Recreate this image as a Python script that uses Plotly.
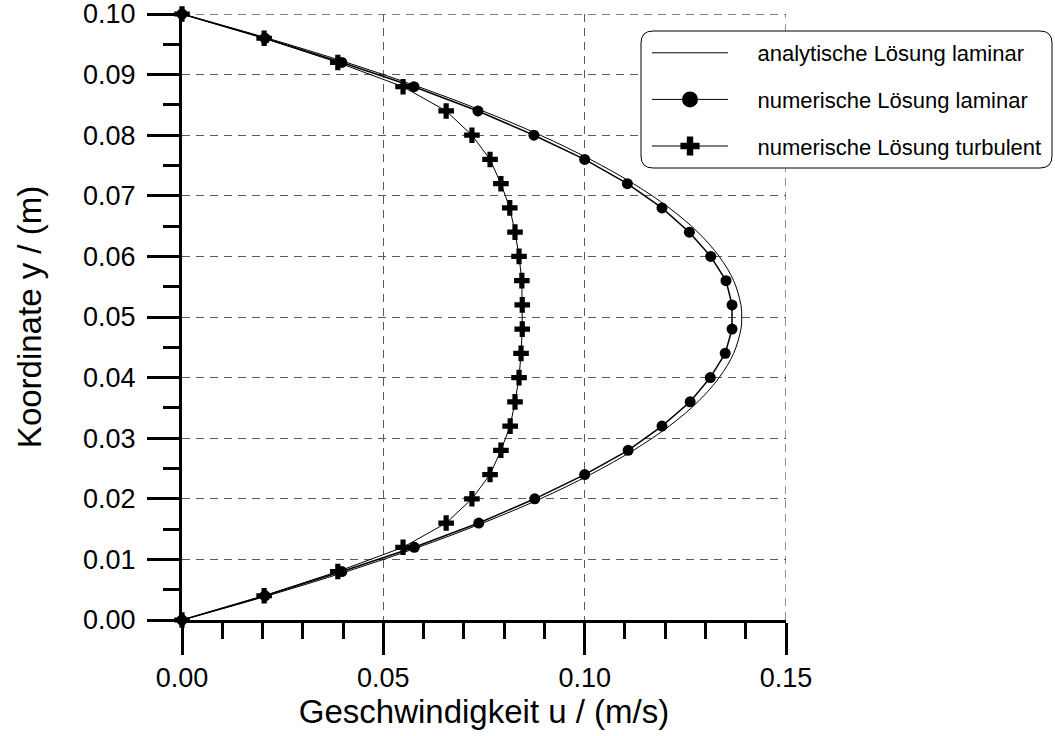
import plotly.graph_objects as go

# ---- data ----
y_pts = [0.000, 0.004, 0.008, 0.012, 0.016, 0.020, 0.024, 0.028, 0.032, 0.036,
         0.040, 0.044, 0.048, 0.052, 0.056, 0.060, 0.064, 0.068, 0.072, 0.076,
         0.080, 0.084, 0.088, 0.092, 0.096, 0.100]

u_lam_num = [0.0, 0.0206, 0.0397, 0.0577, 0.0737, 0.0876, 0.1000, 0.1108, 0.1192, 0.1262,
             0.1312, 0.1349, 0.1366, 0.1366, 0.1351, 0.1313, 0.1260, 0.1192, 0.1106, 0.1000,
             0.0874, 0.0735, 0.0576, 0.0397, 0.0206, 0.0]

u_turb_num = [0.0, 0.0204, 0.0387, 0.0549, 0.0656, 0.0720, 0.0765, 0.0792, 0.0815, 0.0827,
              0.0837, 0.0842, 0.0845, 0.0845, 0.0844, 0.0837, 0.0827, 0.0814, 0.0792, 0.0765,
              0.0720, 0.0656, 0.0549, 0.0387, 0.0204, 0.0]

y_ana = [0.000, 0.004, 0.008, 0.012, 0.016, 0.020, 0.024, 0.028, 0.032, 0.036,
         0.040, 0.044, 0.048, 0.050, 0.052, 0.056, 0.060, 0.064, 0.068, 0.072,
         0.076, 0.080, 0.084, 0.088, 0.092, 0.096, 0.100]
u_ana = [0.0, 0.0213, 0.0409, 0.0587, 0.0747, 0.0890, 0.1014, 0.1121, 0.1210, 0.1281,
         0.1334, 0.1370, 0.1388, 0.1390, 0.1388, 0.1370, 0.1334, 0.1281, 0.1210, 0.1121,
         0.1014, 0.0890, 0.0747, 0.0587, 0.0409, 0.0213, 0.0]

names = ["analytische Lösung laminar", "numerische Lösung laminar", "numerische Lösung turbulent"]
x_range = [0.0, 0.15]
y_range = [0.0, 0.10]
x_ticks = [0.00, 0.05, 0.10, 0.15]
x_ticklabels = ["0.00", "0.05", "0.10", "0.15"]
y_ticks = [0.00, 0.01, 0.02, 0.03, 0.04, 0.05, 0.06, 0.07, 0.08, 0.09, 0.10]
y_ticklabels = ["0.00", "0.01", "0.02", "0.03", "0.04", "0.05", "0.06", "0.07", "0.08", "0.09", "0.10"]
x_title = "Geschwindigkeit u / (m/s)"
y_title = "Koordinate y / (m)"

FONT = "Liberation Sans, Arial, sans-serif"
W, H = 1055, 736
ML, MR, MT, MB = 182, 269, 14, 116
PW, PH = W - ML - MR, H - MT - MB

fig = go.Figure()

# plotted traces (no legend)
fig.add_trace(go.Scatter(x=u_ana, y=y_ana, mode="lines", line=dict(color="black", width=1, shape="spline"),
                         showlegend=False, cliponaxis=False, hoverinfo="skip"))
fig.add_trace(go.Scatter(x=u_lam_num, y=y_pts, mode="lines+markers",
                         line=dict(color="black", width=1.5),
                         marker=dict(symbol="circle", size=11, color="black"),
                         showlegend=False, cliponaxis=False))
fig.add_trace(go.Scatter(x=u_turb_num, y=y_pts, mode="lines+markers",
                         line=dict(color="black", width=1),
                         marker=dict(symbol="cross", size=13, color="black"),
                         showlegend=False, cliponaxis=False))

# legend entries
PAD = "\u00a0\u00a0\u00a0\u00a0"
fig.add_trace(go.Scatter(x=[None], y=[None], mode="lines", name=PAD + names[0],
                         line=dict(color="black", width=1), legendgroup="a"))
fig.add_trace(go.Scatter(x=[None], y=[None], mode="lines+markers", name=PAD + names[1],
                         line=dict(color="black", width=1), marker=dict(symbol="circle", size=16, color="black"),
                         legendgroup="b"))
fig.add_trace(go.Scatter(x=[None], y=[None], mode="lines+markers", name=PAD + names[2],
                         line=dict(color="black", width=1), marker=dict(symbol="cross", size=16, color="black"),
                         legendgroup="c"))

# conversions from page pixels to paper coords
def px2paper_x(px):
    return (px - ML) / PW

def px2paper_y(py):
    return (H - MB - py) / PH

# dashed frame lines at the upper / right ends of the axes (like the grid)
GRID_COL = "#5a5a5a"
fig.add_shape(type="line", xref="x", yref="y", x0=x_range[0], x1=x_range[1], y0=y_range[1], y1=y_range[1],
              line=dict(color=GRID_COL, width=1.3, dash="8px,6px"), layer="below")
fig.add_shape(type="line", xref="x", yref="y", x0=x_range[1], x1=x_range[1], y0=y_range[0], y1=y_range[1],
              line=dict(color=GRID_COL, width=1.3, dash="8px,6px"), layer="below")

# rounded legend frame
x0, x1 = px2paper_x(641), px2paper_x(1052)
y0, y1 = px2paper_y(168), px2paper_y(31)
rx, ry = 12 / PW, 12 / PH
path = (f"M{x0+rx},{y1} L{x1-rx},{y1} Q{x1},{y1} {x1},{y1-ry} "
        f"L{x1},{y0+ry} Q{x1},{y0} {x1-rx},{y0} "
        f"L{x0+rx},{y0} Q{x0},{y0} {x0},{y0+ry} "
        f"L{x0},{y1-ry} Q{x0},{y1} {x0+rx},{y1} Z")
fig.add_shape(type="path", path=path, xref="paper", yref="paper",
              line=dict(color="black", width=1), fillcolor="white", layer="above")

grid_kw = dict(showgrid=True, gridcolor=GRID_COL, gridwidth=1.3, griddash="8px,6px")

fig.update_xaxes(range=x_range, tickmode="array", tickvals=x_ticks, ticktext=x_ticklabels,
                 ticks="outside", ticklen=32, tickwidth=2.5, tickcolor="black",
                 showline=True, linecolor="black", linewidth=3, zeroline=False,
                 ticklabeloverflow="allow", ticklabelstandoff=0,
                 tickfont=dict(family=FONT, size=27, color="black"),
                 title=dict(text=x_title, font=dict(family=FONT, size=33, color="black"), standoff=8),
                 minor=dict(dtick=0.01, tick0=0, ticks="outside", ticklen=16, tickwidth=2.5,
                            tickcolor="black", showgrid=False),
                 **grid_kw)
fig.update_yaxes(range=y_range, tickmode="array", tickvals=y_ticks, ticktext=y_ticklabels,
                 ticks="outside", ticklen=32, tickwidth=2.5, tickcolor="black",
                 showline=True, linecolor="black", linewidth=3, zeroline=False,
                 ticklabeloverflow="allow", ticklabelstandoff=6,
                 tickfont=dict(family=FONT, size=27, color="black"),
                 title=dict(text=y_title, font=dict(family=FONT, size=33, color="black"), standoff=32),
                 minor=dict(dtick=0.005, tick0=0, ticks="outside", ticklen=16, tickwidth=2.5,
                            tickcolor="black", showgrid=False),
                 **grid_kw)

fig.update_layout(
    template="none",
    width=W, height=H,
    margin=dict(l=ML, r=MR, t=MT, b=MB, autoexpand=False),
    paper_bgcolor="white", plot_bgcolor="white",
    font=dict(family=FONT, color="black"),
    showlegend=True,
    legend=dict(x=px2paper_x(647), y=px2paper_y(32), xanchor="left", yanchor="top",
                bgcolor="rgba(0,0,0,0)", borderwidth=0, itemwidth=76,
                traceorder="grouped", tracegroupgap=15,
                font=dict(family=FONT, size=22, color="black")),
)

fig.write_html("out.html", config={"displayModeBar": False},
               post_script="document.body.style.margin='0px';document.body.style.overflow='hidden';")
